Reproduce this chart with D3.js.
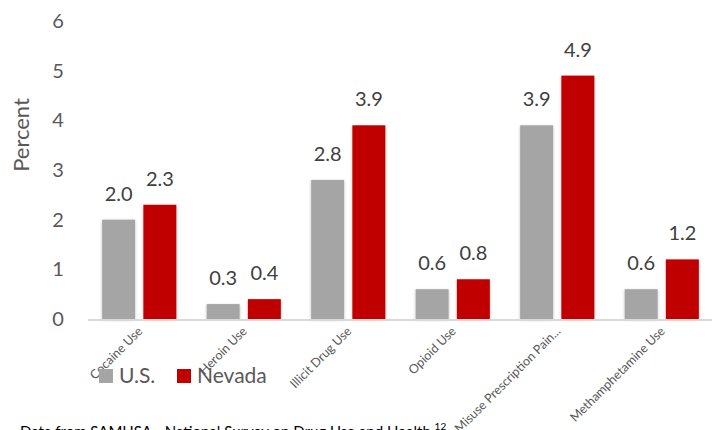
<!DOCTYPE html>
<html>
<head>
<meta charset="utf-8">
<script src="https://cdn.jsdelivr.net/npm/d3@7"></script>
<style>
  body { margin: 0; background: #fff; }
  svg { display: block; font-family: Lato, "Open Sans", sans-serif; }
</style>
</head>
<body>
<script>
// categories and values
var categories = ["Cocaine Use", "Heroin Use", "Illicit Drug Use", "Opioid Use",
                  "Misuse Prescription Pain...", "Methamphetamine Use"];
var usValues = [2.0, 0.3, 2.8, 0.6, 3.9, 0.6];
var nevadaValues = [2.3, 0.4, 3.9, 0.8, 4.9, 1.2];
var seriesNames = ["U.S.", "Nevada"];
var yTicks = [0, 1, 2, 3, 4, 5, 6];

var colors = { "U.S.": "#a5a5a5", "Nevada": "#c00000" };

var width = 719, height = 430;

var svg = d3.select("body").append("svg")
    .attr("width", width)
    .attr("height", height);

// soft shadow like the office chart
var defs = svg.append("defs");
var f = defs.append("filter").attr("id", "shadow")
    .attr("x", "-20%").attr("y", "-10%").attr("width", "140%").attr("height", "120%");
f.append("feDropShadow").attr("dx", 0).attr("dy", 1).attr("stdDeviation", 1.5)
    .attr("flood-color", "#000").attr("flood-opacity", 0.25);

var x = d3.scaleBand()
    .domain(categories)
    .range([87, 714])
    .paddingInner(0.29)
    .paddingOuter(0.145);

var x1 = d3.scaleBand()
    .domain(seriesNames)
    .range([0, x.bandwidth()])
    .paddingInner(0.2);

var y = d3.scaleLinear()
    .domain([0, 6])
    .range([319, 21]);

var rows = categories.map(function(c, i) {
    return { cat: c, vals: [
        { name: "U.S.", value: usValues[i] },
        { name: "Nevada", value: nevadaValues[i] }
    ]};
});

// y tick labels (no axis line / gridlines)
svg.append("g").selectAll("text")
    .data(yTicks)
    .enter()
    .append("text")
    .attr("x", 58)
    .attr("y", function(d) { return y(d); })
    .attr("dy", "0.35em")
    .attr("text-anchor", "middle")
    .attr("font-size", 20)
    .attr("fill", "#595959")
    .text(function(d) { return d; });

svg.append("text")
    .attr("transform", "translate(29,135) rotate(-90)")
    .attr("text-anchor", "middle")
    .attr("font-size", 22)
    .attr("fill", "#595959")
    .text("Percent");

var groups = svg.append("g").selectAll("g")
    .data(rows)
    .enter()
    .append("g")
    .attr("transform", function(d) { return "translate(" + x(d.cat) + ",0)"; });

groups.selectAll("rect")
    .data(function(d) { return d.vals; })
    .enter()
    .append("rect")
    .attr("x", function(d) { return x1(d.name); })
    .attr("y", function(d) { return y(d.value); })
    .attr("width", x1.bandwidth())
    .attr("height", function(d) { return y(0) - y(d.value); })
    .attr("fill", function(d) { return colors[d.name]; })
    .attr("filter", "url(#shadow)");

groups.selectAll("text")
    .data(function(d) { return d.vals; })
    .enter()
    .append("text")
    .attr("x", function(d) { return x1(d.name) + x1.bandwidth() / 2; })
    .attr("y", function(d) { return y(d.value) - 19; })
    .attr("text-anchor", "middle")
    .attr("font-size", 20)
    .attr("fill", "#404040")
    .text(function(d) { return d.value.toFixed(1); });

// baseline
svg.append("line")
    .attr("x1", 88).attr("x2", 712)
    .attr("y1", y(0) + 1).attr("y2", y(0) + 1)
    .attr("stroke", "#d9d9d9")
    .attr("stroke-width", 2);

// rotated category labels
svg.append("g").selectAll("text")
    .data(categories)
    .enter()
    .append("text")
    .attr("transform", function(d) {
        return "translate(" + (x(d) + x.bandwidth() / 2 + 4) + ",332) rotate(-45)";
    })
    .attr("text-anchor", "end")
    .attr("font-size", 12.5)
    .attr("fill", "#595959")
    .text(function(d) { return d; });

// legend (sits over the labels as in the original)
var legendX = [99, 177];
var legend = svg.append("g").selectAll("g")
    .data(seriesNames)
    .enter()
    .append("g")
    .attr("transform", function(d, i) { return "translate(" + legendX[i] + ",369)"; });

legend.append("rect")
    .attr("width", 14).attr("height", 14)
    .attr("fill", function(d) { return colors[d]; });

legend.append("text")
    .attr("x", 20)
    .attr("y", 14)
    .attr("font-size", 21)
    .attr("fill", "#595959")
    .text(function(d) { return d; });

// source note, cut off at the bottom edge
var note = svg.append("text")
    .attr("x", 20)
    .attr("y", 437)
    .attr("font-size", 15)
    .attr("fill", "#000");
note.append("tspan").text("Data from SAMHSA - National Survey on Drug Use and Health ");
note.append("tspan").attr("font-size", 10).attr("dy", -7).text("12");
</script>
</body>
</html>
